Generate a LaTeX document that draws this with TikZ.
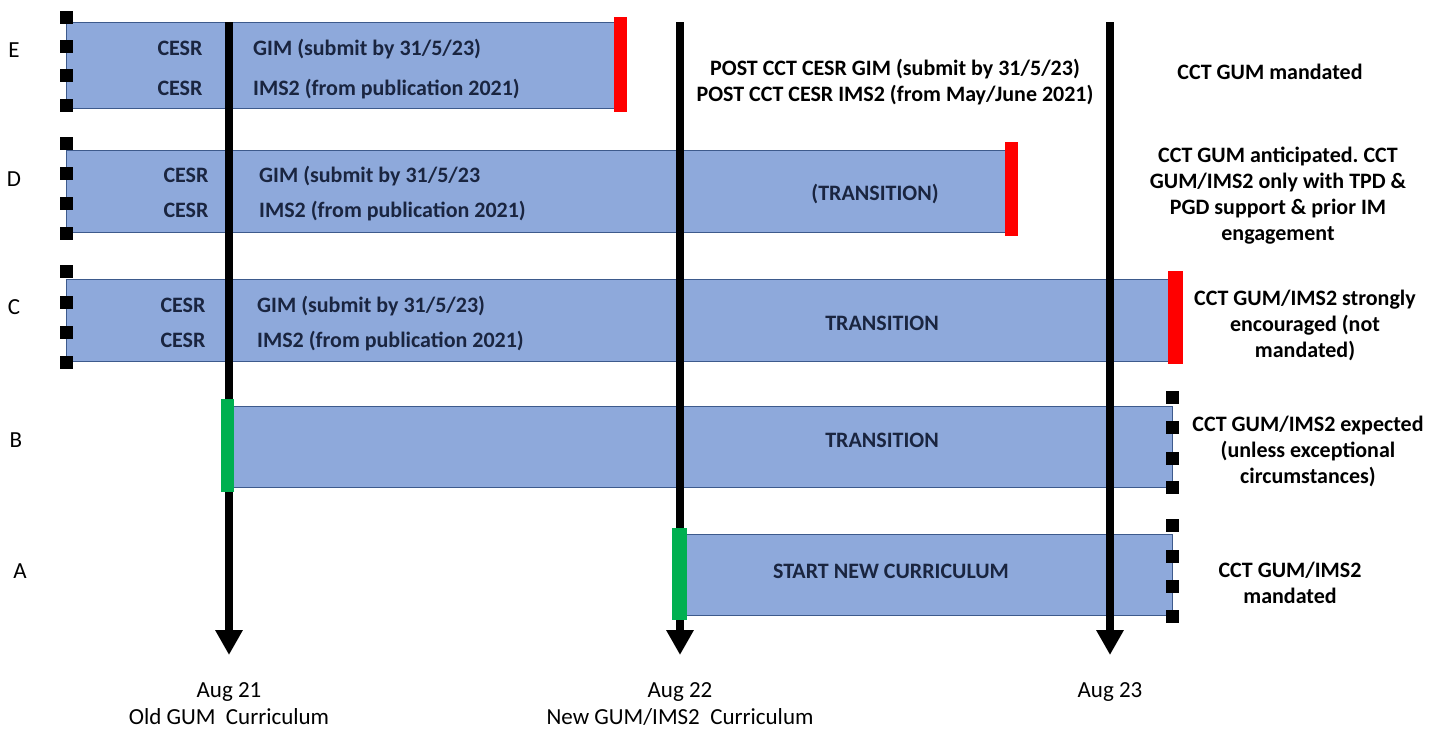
\documentclass[tikz,border=0pt]{standalone}
\usepackage{fontspec}
\setmainfont{Carlito}
\usetikzlibrary{arrows.meta}
\definecolor{barfill}{HTML}{8EA9DB}
\definecolor{barline}{HTML}{3D5A8C}
\definecolor{bartext}{HTML}{1A2540}
\definecolor{markred}{HTML}{FF0000}
\definecolor{markgreen}{HTML}{00B050}
\frenchspacing
\begin{document}
\begin{tikzpicture}[x=1pt,y=-1pt,
  bar/.style={draw=barline,line width=0.8pt,fill=barfill,inner sep=0,outer sep=0,anchor=north west,rectangle},
  redmark/.style={fill=markred,inner sep=0,outer sep=0,minimum width=13pt,anchor=north west,rectangle},
  greenmark/.style={fill=markgreen,inner sep=0,outer sep=0,minimum width=13pt,anchor=north west,rectangle},
  sq/.style={fill=black,minimum size=13pt,inner sep=0,outer sep=0,rectangle},
  timeline/.style={line width=8pt,-{Triangle[width=26pt,length=25pt]}},
  bartxt/.style={font=\bfseries\fontsize{22}{26}\selectfont,text=bartext,inner sep=0},
  note/.style={font=\bfseries\fontsize{22}{26}\selectfont,align=center,inner sep=0},
  rowlbl/.style={font=\fontsize{23}{27}\selectfont,inner sep=0},
  datelbl/.style={font=\fontsize{23}{27}\selectfont,align=center,inner sep=0,anchor=north}
]
\useasboundingbox (0,0) rectangle (1446,731);
\fill[white] (0,0) rectangle (1446,731);

% bars
\node[bar,minimum width=548pt,minimum height=86pt] (barE) at (66,22) {};
\node[bar,minimum width=939pt,minimum height=82pt] (barD) at (66,150) {};
\node[bar,minimum width=1104pt,minimum height=82pt] (barC) at (66,279) {};
\node[bar,minimum width=944pt,minimum height=81pt] (barB) at (228,406) {};
\node[bar,minimum width=492pt,minimum height=81pt] (barA) at (680,534) {};

% timelines
\coordinate (t1) at (229,22);  \coordinate (b1) at (229,655);
\coordinate (t2) at (680,22);  \coordinate (b2) at (680,655);
\coordinate (t3) at (1110,22); \coordinate (b3) at (1110,655);
\draw[timeline] (t1) -- (b1);
\draw[timeline] (t2) -- (b2);
\draw[timeline] (t3) -- (b3);

% end markers
\node[redmark,minimum height=95pt] (rE) at (614,17) {};
\node[redmark,minimum height=94pt] (rD) at (1005,142) {};
\node[redmark,minimum height=93pt,minimum width=15pt] (rC) at (1168,271) {};
\node[greenmark,minimum height=93pt] (gB) at (221,399) {};
\node[greenmark,minimum height=92pt,minimum width=15pt] (gA) at (672,528) {};

% squares
\foreach \y [count=\i] in {17,46,75,105} \node[sq] (sE\i) at (66,\y) {};
\foreach \y [count=\i] in {143,173,203,233} \node[sq] (sD\i) at (66,\y) {};
\foreach \y [count=\i] in {271,302,332,362} \node[sq] (sC\i) at (66,\y) {};
\foreach \y [count=\i] in {397,427,458,487} \node[sq] (sB\i) at (1172,\y) {};
\foreach \y [count=\i] in {525,556,586,616} \node[sq] (sA\i) at (1172,\y) {};

% row letters
\node[rowlbl,anchor=base] (lE) at (14,57) {E};
\node[rowlbl,anchor=base] (lD) at (14,186) {D};
\node[rowlbl,anchor=base] (lC) at (14,314) {C};
\node[rowlbl,anchor=base] (lB) at (16,447) {B};
\node[rowlbl,anchor=base] (lA) at (20,578) {A};

% bar texts
\node[bartxt,anchor=base] (e1) at (180,55) {CESR};
\node[bartxt,anchor=base] (e2) at (180,95) {CESR};
\node[bartxt,anchor=base west] (e3) at (253,55) {GIM (submit by 31/5/23)};
\node[bartxt,anchor=base west] (e4) at (253,95) {IMS2 (from publication 2021)};

\node[bartxt,anchor=base] (d1) at (186,182) {CESR};
\node[bartxt,anchor=base] (d2) at (186,217) {CESR};
\node[bartxt,anchor=base west] (d3) at (259,182) {GIM (submit by 31/5/23};
\node[bartxt,anchor=base west] (d4) at (259,217) {IMS2 (from publication 2021)};
\node[bartxt,anchor=base] (d5) at (875,200) {(TRANSITION)};

\node[bartxt,anchor=base] (c1) at (183,312) {CESR};
\node[bartxt,anchor=base] (c2) at (183,347) {CESR};
\node[bartxt,anchor=base west] (c3) at (257,312) {GIM (submit by 31/5/23)};
\node[bartxt,anchor=base west] (c4) at (257,347) {IMS2 (from publication 2021)};
\node[bartxt,anchor=base] (c5) at (882,330) {TRANSITION};

\node[bartxt,anchor=base] (b5) at (882,447) {TRANSITION};
\node[bartxt,anchor=base] (a5) at (891,578) {START NEW CURRICULUM};

% notes
\node[note] (nE2) at (895,82) {POST CCT CESR GIM (submit by 31/5/23)\\POST CCT CESR IMS2 (from May/June 2021)};
\node[note,anchor=base] (nE) at (1270,79) {CCT GUM mandated};
\node[note] (nD) at (1278,196) {CCT GUM anticipated. CCT\\GUM/IMS2 only with TPD \&\\PGD support \& prior IM\\engagement};
\node[note] (nC) at (1305,325) {CCT GUM/IMS2 strongly\\encouraged (not\\mandated)};
\node[note] (nB) at (1308,451) {CCT GUM/IMS2 expected\\(unless exceptional\\circumstances)};
\node[note] (nA) at (1290,583) {CCT GUM/IMS2\\mandated};

% dates
\node[datelbl] (d21) at (229,682) {Aug 21\\Old GUM\ \ Curriculum};
\node[datelbl] (d22) at (680,682) {Aug 22\\New GUM/IMS2\ \ Curriculum};
\node[datelbl] (d23) at (1110,682) {Aug 23};
\end{tikzpicture}
\end{document}
